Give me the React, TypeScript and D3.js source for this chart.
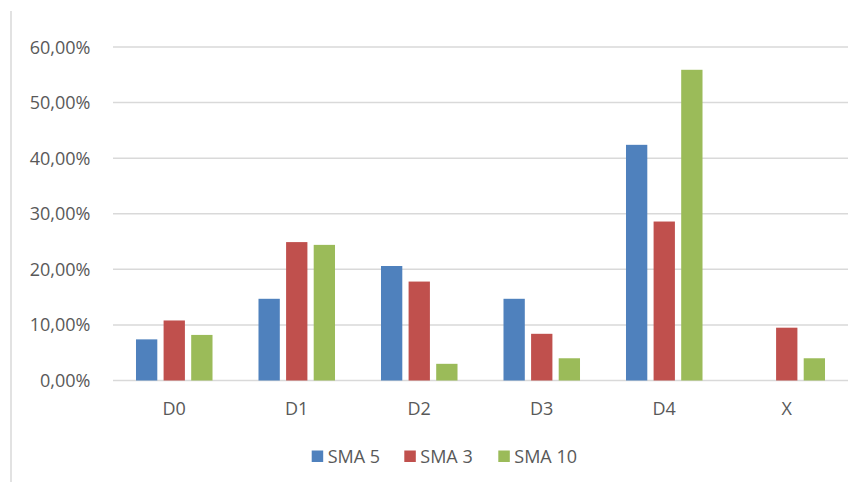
import React from "react";
import * as d3 from "d3";

const categories = ["D0", "D1", "D2", "D3", "D4", "X"];
const seriesNames = ["SMA 5", "SMA 3", "SMA 10"];
const sma5 = [7.4, 14.7, 20.6, 14.7, 42.4, 0];
const sma3 = [10.8, 24.9, 17.8, 8.4, 28.6, 9.5];
const sma10 = [8.2, 24.4, 3.0, 4.0, 55.9, 4.0];
const yTicks = [0, 10, 20, 30, 40, 50, 60];
const colors = ["#4f81bd", "#c0504d", "#9bbb59"];

const W = 862;
const H = 482;
const FONT = "'Open Sans', sans-serif";
const TEXT = "#595959";

export default function App() {
  const series = [sma5, sma3, sma10];
  const x0 = d3.scaleBand<string>().domain(categories).range([113, 848]).paddingInner(0).paddingOuter(0);
  const x1 = d3
    .scaleBand<string>()
    .domain(seriesNames)
    .range([0, x0.bandwidth()])
    .paddingInner(0.228)
    .paddingOuter(0.833);
  const y = d3.scaleLinear().domain([0, 60]).range([380.5, 47]);
  const fmt = (v: number) => v.toFixed(2).replace(".", ",") + "%";

  const legendX = [311.7, 404.3, 498.3];

  return (
    <svg
      width={W}
      height={H}
      style={{ position: "absolute", left: 0, top: 0, background: "#fff" }}
      fontFamily={FONT}
    >
      <line x1={11} x2={11} y1={11} y2={H} stroke="#d9d9d9" strokeWidth={1.5} />
      {yTicks.map((t) => (
        <g key={t}>
          <line x1={113} x2={848} y1={y(t)} y2={y(t)} stroke="#d9d9d9" strokeWidth={1.5} />
          <text x={90.5} y={y(t) + 6.5} textAnchor="end" fontSize={18} fill={TEXT}>
            {fmt(t)}
          </text>
        </g>
      ))}
      {categories.map((c, i) => (
        <g key={c} transform={`translate(${x0(c)},0)`}>
          {series.map((s, j) =>
            s[i] > 0 ? (
              <rect
                key={j}
                x={x1(seriesNames[j])!}
                y={y(s[i])}
                width={x1.bandwidth()}
                height={y(0) - y(s[i])}
                fill={colors[j]}
              />
            ) : null
          )}
          <text x={x0.bandwidth() / 2} y={414.5} textAnchor="middle" fontSize={18} fill={TEXT}>
            {c}
          </text>
        </g>
      ))}
      {seriesNames.map((n, j) => (
        <g key={n}>
          <rect x={legendX[j]} y={450.5} width={11.5} height={11.5} fill={colors[j]} />
          <text x={legendX[j] + 16} y={463} fontSize={18} fill={TEXT}>
            {n}
          </text>
        </g>
      ))}
    </svg>
  );
}
